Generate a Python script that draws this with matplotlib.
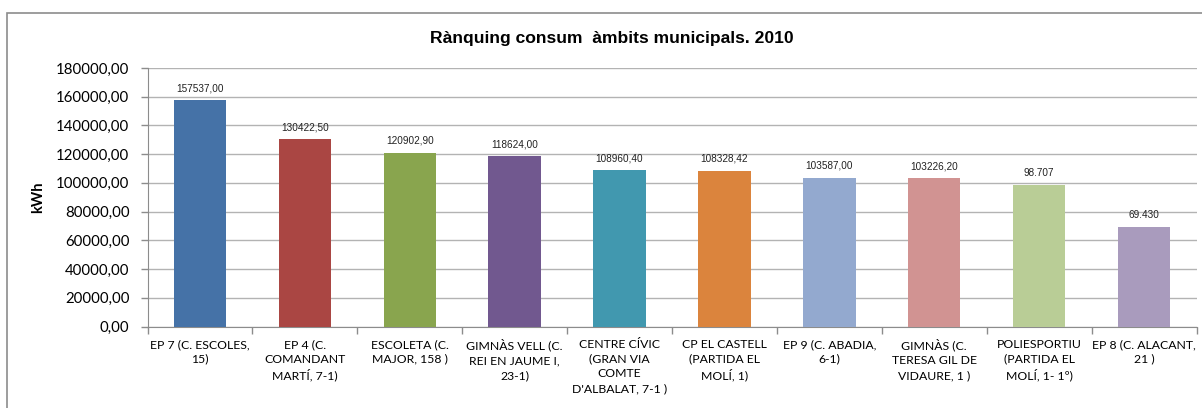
import matplotlib.pyplot as plt
from matplotlib.patches import Rectangle

# Consum per àmbit municipal (kWh)
categories = [
    "EP 7 (C. ESCOLES,\n15)",
    "EP 4 (C.\nCOMANDANT\nMARTÍ, 7-1)",
    "ESCOLETA (C.\nMAJOR, 158 )",
    "GIMNÀS VELL (C.\nREI EN JAUME I,\n23-1)",
    "CENTRE CÍVIC\n(GRAN VIA\nCOMTE\nD'ALBALAT, 7-1 )",
    "CP EL CASTELL\n(PARTIDA EL\nMOLÍ, 1)",
    "EP 9 (C. ABADIA,\n6-1)",
    "GIMNÀS (C.\nTERESA GIL DE\nVIDAURE, 1 )",
    "POLIESPORTIU\n(PARTIDA EL\nMOLÍ, 1- 1º)",
    "EP 8 (C. ALACANT,\n21 )",
]
values = [157537.00, 130422.50, 120902.90, 118624.00, 108960.40,
          108328.42, 103587.00, 103226.20, 98707, 69430]
value_labels = ["157537,00", "130422,50", "120902,90", "118624,00", "108960,40",
                "108328,42", "103587,00", "103226,20", "98.707", "69.430"]
colors = ["#4572A7", "#AA4643", "#89A54E", "#71588F", "#4198AF",
          "#DB843D", "#93A9CF", "#D19392", "#B9CD96", "#A99BBD"]

yticks = list(range(0, 180001, 20000))

fig = plt.figure(figsize=(12.02, 4.08), dpi=100)
ax = fig.add_axes([147.5 / 1202, 1 - 326.5 / 408, 1049 / 1202, 258.5 / 408])

# outer chart border (right and bottom edges fall outside the image)
fig.patches.append(Rectangle((6.5 / 1202, -0.1), 1.1, 1.1 - 12.7 / 408,
                             transform=fig.transFigure, fill=False,
                             edgecolor="#8c8c8c", linewidth=1.2))

x = list(range(len(categories)))
ax.bar(x, values, width=0.5, color=colors, zorder=3)

for xi, v, lab in zip(x, values, value_labels):
    ax.annotate(lab, (xi, v), xytext=(0, 5), textcoords="offset points",
                ha="center", va="bottom", fontsize=7.2,
                family="Liberation Sans", color="#222222")

ax.set_xlim(-0.5, len(categories) - 0.5)
ax.set_ylim(0, 180000)
ax.set_yticks(yticks)
ax.set_yticklabels([f"{t:d},00" for t in yticks], family="Lato", fontsize=10.8)
ax.yaxis.grid(True, color="#b3b3b3", linewidth=1, zorder=0)

ax.set_xticks(x)
ax.set_xticklabels(categories, family="Lato", fontsize=8.8, linespacing=1.4)
ax.set_xticks([i - 0.5 for i in range(len(categories) + 1)], minor=True)
ax.tick_params(axis="x", which="major", length=0, pad=9)
ax.tick_params(axis="x", which="minor", length=5, color="#8c8c8c", width=1)
ax.tick_params(axis="y", length=5, color="#8c8c8c", width=1, pad=8)

for side in ["top", "right"]:
    ax.spines[side].set_visible(False)
for side in ["left", "bottom"]:
    ax.spines[side].set_color("#8c8c8c")

ax.set_ylabel("kWh", family="Lato", fontweight="bold", fontsize=10.5,
              labelpad=8)
fig.text(611.7 / 1202, 1 - 43 / 408, "Rànquing consum  àmbits municipals. 2010",
         ha="center", va="baseline", family="Liberation Sans",
         fontweight="bold", fontsize=12.6)

fig.savefig("out.png", dpi=100)
